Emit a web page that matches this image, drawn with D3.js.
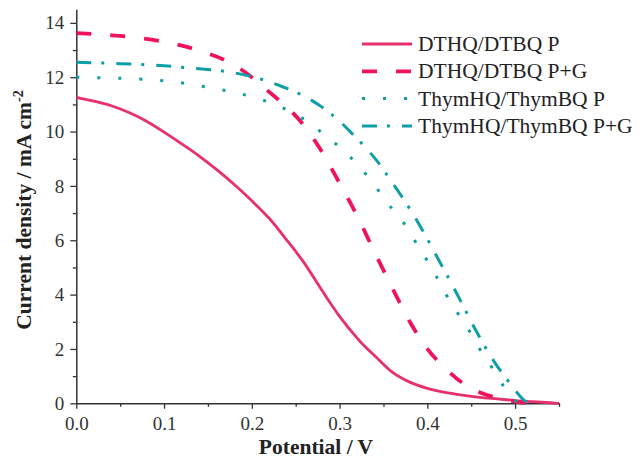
<!DOCTYPE html>
<html>
<head>
<meta charset="utf-8">
<script src="https://cdn.jsdelivr.net/npm/d3@7"></script>
<style>
  html, body { margin: 0; padding: 0; background: #fff; }
  svg { display: block; }
  text { font-family: "Liberation Serif", "Times New Roman", serif; }
</style>
</head>
<body>
<svg id="chart" width="638" height="463"></svg>
<script>
// ---- data ----
const xTicks = [0.0, 0.1, 0.2, 0.3, 0.4, 0.5];
const yTicks = [0, 2, 4, 6, 8, 10, 12, 14];
const seriesNames = ["DTHQ/DTBQ P", "DTHQ/DTBQ P+G", "ThymHQ/ThymBQ P", "ThymHQ/ThymBQ P+G"];

const dtP_x = [0,0.02,0.04,0.06,0.08,0.10,0.12,0.14,0.16,0.18,0.20,0.22,0.24,0.26,0.28,0.30,0.32,0.33,0.34,0.36,0.38,0.40,0.42,0.44,0.46,0.48,0.50,0.52,0.54,0.55];
const dtP_y = [11.26,11.12,10.95,10.7,10.38,9.98,9.55,9.1,8.6,8.05,7.45,6.8,6.0,5.15,4.15,3.2,2.4,2.05,1.75,1.15,0.78,0.55,0.4,0.3,0.22,0.16,0.1,0.06,0.02,0];

const dtPG_x = [0,0.05,0.10,0.14,0.18,0.20,0.22,0.24,0.26,0.28,0.30,0.32,0.34,0.36,0.38,0.40,0.42,0.44,0.46,0.48,0.50,0.52];
const dtPG_y = [13.62,13.52,13.3,12.98,12.45,12.0,11.45,10.9,10.2,9.25,8.1,6.9,5.55,4.25,3.0,2.0,1.3,0.75,0.4,0.2,0.06,0];

const thP_x = [0,0.05,0.10,0.15,0.20,0.23,0.255,0.275,0.29,0.31,0.33,0.345,0.36,0.375,0.39,0.40,0.41,0.42,0.435,0.45,0.46,0.475,0.49,0.50,0.51];
const thP_y = [12.0,11.96,11.87,11.63,11.28,10.95,10.54,10.08,9.7,9.13,8.43,7.8,7.15,6.55,5.75,5.24,4.68,4.08,3.3,2.55,1.98,1.25,0.48,0.1,0];

const thPG_x = [0,0.05,0.10,0.14,0.175,0.205,0.235,0.26,0.28,0.30,0.315,0.33,0.345,0.36,0.37,0.39,0.41,0.435,0.455,0.475,0.495,0.51,0.515];
const thPG_y = [12.55,12.5,12.42,12.31,12.19,11.98,11.65,11.3,10.9,10.38,9.9,9.4,8.82,8.12,7.65,6.62,5.45,3.95,2.7,1.59,0.7,0.12,0];

// ---- styles ----
const styles = [
  { color: "#e8306a", width: 2.8, dash: null },
  { color: "#f0135c", width: 3.8, dash: "15,19" },
  { color: "#0e9ea6", width: 3.0, dash: "3,18" },
  { color: "#0e9ea6", width: 3.0, dash: "15,10,3,12" }
];

const series = [
  { name: seriesNames[0], x: dtP_x, y: dtP_y },
  { name: seriesNames[1], x: dtPG_x, y: dtPG_y },
  { name: seriesNames[2], x: thP_x, y: thP_y },
  { name: seriesNames[3], x: thPG_x, y: thPG_y }
];

const svg = d3.select("#chart");
const mLeft = 76.3, mRight = 559, mTop = 9.3, mBottom = 403.3;

const x = d3.scaleLinear().domain([0, 0.55]).range([mLeft, mRight]);
const y = d3.scaleLinear().domain([0, 14.5]).range([mBottom, mTop]);

const axisColor = "#333";

// minor ticks
const xMinor = d3.range(0.05, 0.551, 0.1);
const yMinor = d3.range(1, 14.5, 2);

svg.append("g").attr("transform", `translate(0,${mBottom})`)
  .call(d3.axisBottom(x).tickValues(xMinor).tickSize(3.5).tickFormat(""))
  .call(g => g.select(".domain").remove());
svg.append("g").attr("transform", `translate(0,${mBottom})`)
  .call(d3.axisBottom(x).tickValues(xTicks).tickSize(5.5).tickSizeOuter(0).tickPadding(7.5)
    .tickFormat(d3.format(".1f")));

svg.append("g").attr("transform", `translate(${mLeft},0)`)
  .call(d3.axisLeft(y).tickValues(yMinor).tickSize(3.5).tickFormat(""))
  .call(g => g.select(".domain").remove());
svg.append("g").attr("transform", `translate(${mLeft},0)`)
  .call(d3.axisLeft(y).tickValues(yTicks).tickSize(6).tickSizeOuter(0).tickPadding(6)
    .tickFormat(d3.format("d")));

svg.selectAll(".domain").attr("stroke", axisColor).attr("stroke-width", 1.5);
svg.selectAll(".tick line").attr("stroke", axisColor).attr("stroke-width", 1.3);
svg.selectAll(".tick text")
  .attr("fill", "#333")
  .style("font-family", "'Liberation Serif', serif")
  .style("font-size", "19px");

// axis titles
svg.append("text")
  .attr("x", 316).attr("y", 453.5)
  .attr("text-anchor", "middle")
  .style("font-size", "21.5px").style("font-weight", "bold").attr("fill", "#222")
  .text("Potential / V");

const yt = svg.append("text")
  .attr("transform", "translate(31,210) rotate(-90)")
  .attr("text-anchor", "middle")
  .style("font-size", "21.5px").style("font-weight", "bold").attr("fill", "#222");
yt.append("tspan").text("Current density / mA cm");
yt.append("tspan").attr("dy", -8).style("font-size", "14px").text("-2");

// lines
const line = d3.line().x(d => x(d[0])).y(d => y(d[1])).curve(d3.curveMonotoneX);

series.forEach((s, i) => {
  const pts = s.x.map((v, k) => [v, s.y[k]]);
  const st = styles[i];
  svg.append("path")
    .datum(pts)
    .attr("d", line)
    .attr("fill", "none")
    .attr("stroke", st.color)
    .attr("stroke-width", st.width)
    .attr("stroke-dasharray", st.dash)
    .attr("stroke-linejoin", "round");
});

// legend
const legX0 = 362, legX1 = 412, legY0 = 44, legDy = 27.3;
series.forEach((s, i) => {
  const st = styles[i];
  const yy = legY0 + i * legDy;
  svg.append("line")
    .attr("x1", legX0).attr("x2", legX1).attr("y1", yy).attr("y2", yy)
    .attr("stroke", st.color).attr("stroke-width", st.width)
    .attr("stroke-dasharray", st.dash);
  svg.append("text")
    .attr("x", 418).attr("y", yy + 7)
    .style("font-size", "21.5px").attr("fill", "#222")
    .text(s.name);
});
</script>
</body>
</html>
